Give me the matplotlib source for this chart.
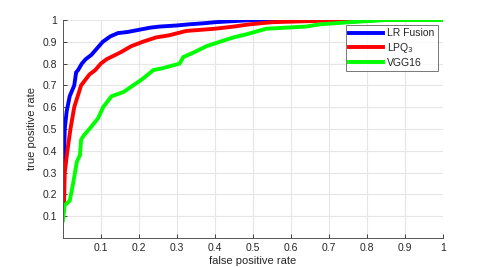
import numpy as np
import matplotlib
matplotlib.use("Agg")
import matplotlib.pyplot as plt

# ROC points (fpr, tpr)
lr_fpr = [0.0, 0.002, 0.005, 0.01, 0.018, 0.03, 0.035, 0.04, 0.05, 0.06, 0.075, 0.09, 0.105,
          0.125, 0.145, 0.17, 0.2, 0.23, 0.255, 0.3, 0.33, 0.37, 0.4, 0.45, 0.5, 0.6, 0.8, 1.0]
lr_tpr = [0.1, 0.3, 0.5, 0.58, 0.65, 0.7, 0.76, 0.77, 0.8, 0.82, 0.84, 0.87, 0.9,
          0.925, 0.94, 0.945, 0.955, 0.965, 0.97, 0.975, 0.98, 0.985, 0.99, 0.995, 1.0, 1.0, 1.0, 1.0]

lpq_fpr = [0.0, 0.003, 0.005, 0.012, 0.02, 0.03, 0.048, 0.07, 0.085, 0.1, 0.115, 0.15, 0.18,
           0.21, 0.245, 0.28, 0.325, 0.4, 0.45, 0.49, 0.55, 0.65, 0.78, 1.0]
lpq_tpr = [0.1, 0.15, 0.3, 0.4, 0.5, 0.6, 0.7, 0.75, 0.77, 0.8, 0.82, 0.85, 0.88,
           0.9, 0.92, 0.93, 0.95, 0.96, 0.97, 0.98, 0.99, 0.995, 1.0, 1.0]

vgg_fpr = [0.0, 0.005, 0.018, 0.027, 0.037, 0.045, 0.048, 0.055, 0.07, 0.093, 0.106, 0.128,
           0.16, 0.185, 0.21, 0.238, 0.265, 0.307, 0.317, 0.343, 0.378, 0.413, 0.448, 0.484,
           0.535, 0.64, 0.675, 0.755, 0.85, 1.0]
vgg_tpr = [0.08, 0.15, 0.17, 0.25, 0.35, 0.38, 0.45, 0.47, 0.5, 0.55, 0.6, 0.65,
           0.67, 0.7, 0.73, 0.77, 0.78, 0.8, 0.83, 0.85, 0.88, 0.9, 0.92, 0.935,
           0.96, 0.97, 0.98, 0.99, 1.0, 1.0]

series = [
    (lr_fpr, lr_tpr, "#0000ff", "LR Fusion"),
    (lpq_fpr, lpq_tpr, "#ff0000", "LPQ$_3$"),
    (vgg_fpr, vgg_tpr, "#00ff00", "VGG16"),
]

plt.rcParams['font.family'] = ['Liberation Sans', 'DejaVu Sans']
txt = "#262626"

fig = plt.figure(figsize=(4.91, 2.67), dpi=100)
ax = fig.add_axes([0.128, 0.109, 0.774, 0.816])

for x, y, c, lab in series:
    ax.plot(x, y, color=c, lw=2.8, label=lab, solid_joinstyle='miter')

ax.set_xlim(0, 1)
ax.set_ylim(0, 1)
ax.set_xticks(np.arange(0.1, 1.01, 0.1))
ax.set_xticklabels(["0.1", "0.2", "0.3", "0.4", "0.5", "0.6", "0.7", "0.8", "0.9", "1"])
ax.set_yticks(np.arange(0.1, 1.01, 0.1))
ax.set_yticklabels(["0.1", "0.2", "0.3", "0.4", "0.5", "0.6", "0.7", "0.8", "0.9", "1"])
ax.grid(True, color="#e6e6e6", lw=0.8)
ax.set_axisbelow(True)
ax.tick_params(direction='in', length=3, width=0.6, colors=txt, labelsize=7.5, pad=4)
for s in ['top', 'right']:
    ax.spines[s].set_visible(False)
for s in ['left', 'bottom']:
    ax.spines[s].set_color("#555555")
    ax.spines[s].set_linewidth(0.7)

ax.set_xlabel("false positive rate", fontsize=8, color=txt, labelpad=2)
ax.set_ylabel("true positive rate", fontsize=8, color=txt, labelpad=4)

leg = ax.legend(loc='upper right', fontsize=7.5, frameon=True, fancybox=False,
                edgecolor="#555555", handlelength=3.3, borderpad=0.3, labelspacing=0.25,
                handletextpad=0.4, borderaxespad=0.5)
leg.get_frame().set_linewidth(0.7)
for t in leg.get_texts():
    t.set_color(txt)

fig.savefig("out.png", dpi=100)
